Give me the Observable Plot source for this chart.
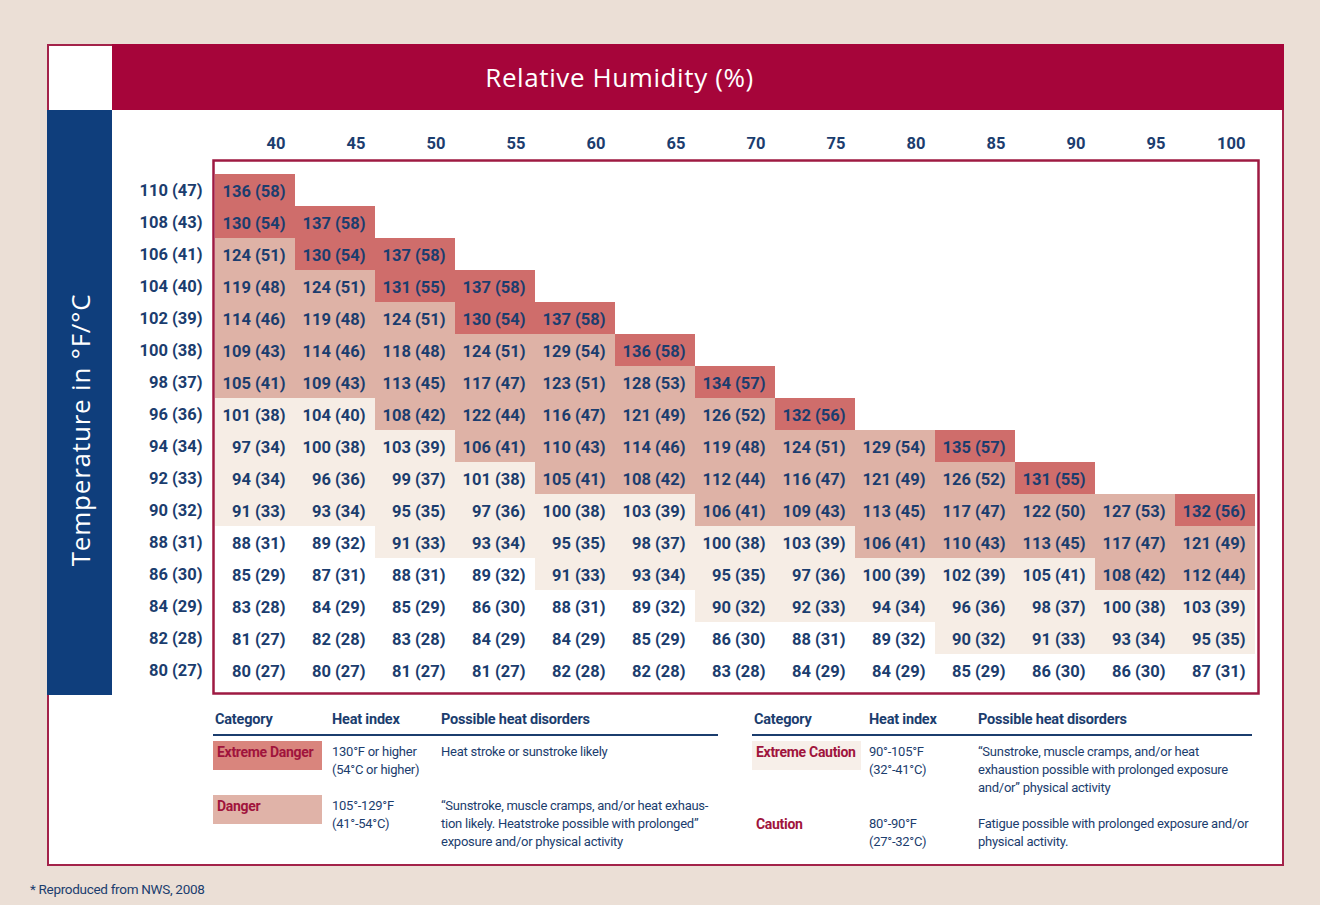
<!DOCTYPE html>
<html>
<head>
<meta charset="utf-8">
<script src="https://cdn.jsdelivr.net/npm/d3@7"></script>
<script src="https://cdn.jsdelivr.net/npm/@observablehq/plot@0.6"></script>
<style>
  html, body { margin: 0; padding: 0; }
  body { width: 1320px; height: 905px; overflow: hidden; background: #ebdfd6; position: relative;
         font-family: Roboto, "Open Sans", sans-serif; color: #1b3d6e; }
  .abs { position: absolute; }
  #panel { left: 47px; top: 44px; width: 1237px; height: 822px; background: #fff; border: 2px solid #a3234a; box-sizing: border-box; }
  #redbar { left: 112px; top: 44px; width: 1172px; height: 66px; background: #a6053a; }
  #bluebar { left: 47px; top: 110px; width: 65px; height: 585px; background: #0f3e7c; }
  #title { left: 112px; top: 59px; width: 1015px; text-align: center; color: #fff; font-family: "Open Sans", sans-serif; font-size: 26px; letter-spacing: 0.6px; line-height: 36px; }
  #ytitle { left: 80px; top: 430px; transform: translate(-50%, -50%) rotate(-90deg); color: #fff; font-family: "Open Sans", sans-serif; font-size: 26px; letter-spacing: 0.8px; white-space: nowrap; }
  #chart { left: 130px; top: 120px; }
  .lh { font-weight: 700; font-size: 14.5px; letter-spacing: -0.2px; white-space: nowrap; }
  .lt { font-size: 13px; line-height: 18px; letter-spacing: -0.25px; white-space: nowrap; }
  .cat { font-weight: 700; font-size: 14px; letter-spacing: -0.3px; color: #a0143c; white-space: nowrap; }
  .rule { height: 2px; background: #1b3d6e; }
  #foot { left: 30px; top: 881px; font-size: 13.5px; letter-spacing: -0.3px; }
</style>
</head>
<body>
<div id="panel" class="abs"></div>
<div id="redbar" class="abs"></div>
<div id="bluebar" class="abs"></div>
<div id="title" class="abs">Relative Humidity (%)</div>
<div id="ytitle" class="abs">Temperature in °F/°C</div>
<div id="chart" class="abs"></div>
<div id="legend"></div>
<div id="foot" class="abs">* Reproduced from NWS, 2008</div>
<script>
// Relative humidity (%) columns
const humidity = [40, 45, 50, 55, 60, 65, 70, 75, 80, 85, 90, 95, 100];
// Air temperature rows (°F) and their °C labels
const tempF = [110, 108, 106, 104, 102, 100, 98, 96, 94, 92, 90, 88, 86, 84, 82, 80];
const tempC = [47, 43, 41, 40, 39, 38, 37, 36, 34, 33, 32, 31, 30, 29, 28, 27];
// Heat index values (°F), one array per temperature row, from 40% humidity onward
const heatF = [
  [136],
  [130, 137],
  [124, 130, 137],
  [119, 124, 131, 137],
  [114, 119, 124, 130, 137],
  [109, 114, 118, 124, 129, 136],
  [105, 109, 113, 117, 123, 128, 134],
  [101, 104, 108, 122, 116, 121, 126, 132],
  [97, 100, 103, 106, 110, 114, 119, 124, 129, 135],
  [94, 96, 99, 101, 105, 108, 112, 116, 121, 126, 131],
  [91, 93, 95, 97, 100, 103, 106, 109, 113, 117, 122, 127, 132],
  [88, 89, 91, 93, 95, 98, 100, 103, 106, 110, 113, 117, 121],
  [85, 87, 88, 89, 91, 93, 95, 97, 100, 102, 105, 108, 112],
  [83, 84, 85, 86, 88, 89, 90, 92, 94, 96, 98, 100, 103],
  [81, 82, 83, 84, 84, 85, 86, 88, 89, 90, 91, 93, 95],
  [80, 80, 81, 81, 82, 82, 83, 84, 84, 85, 86, 86, 87]
];
// Heat index values (°C)
const heatC = [
  [58],
  [54, 58],
  [51, 54, 58],
  [48, 51, 55, 58],
  [46, 48, 51, 54, 58],
  [43, 46, 48, 51, 54, 58],
  [41, 43, 45, 47, 51, 53, 57],
  [38, 40, 42, 44, 47, 49, 52, 56],
  [34, 38, 39, 41, 43, 46, 48, 51, 54, 57],
  [34, 36, 37, 38, 41, 42, 44, 47, 49, 52, 55],
  [33, 34, 35, 36, 38, 39, 41, 43, 45, 47, 50, 53, 56],
  [31, 32, 33, 34, 35, 37, 38, 39, 41, 43, 45, 47, 49],
  [29, 31, 31, 32, 33, 34, 35, 36, 39, 39, 41, 42, 44],
  [28, 29, 29, 30, 31, 32, 32, 33, 34, 36, 37, 38, 39],
  [27, 28, 28, 29, 29, 29, 30, 31, 32, 32, 33, 34, 35],
  [27, 27, 27, 27, 28, 28, 28, 29, 29, 29, 30, 30, 31]
];
// Category of each cell as shown: C = Caution, E = Extreme Caution, D = Danger, X = Extreme Danger
const cellCategory = [
  "X",
  "XX",
  "DXX",
  "DDXX",
  "DDDXX",
  "DDDDDX",
  "DDDDDDX",
  "EEDDDDDX",
  "EEEDDDDDDX",
  "EEEEDDDDDDX",
  "EEEEEEDDDDDDX",
  "CCEEEEEEDDDDD",
  "CCCCEEEEEEEDD",
  "CCCCCCEEEEEEE",
  "CCCCCCCCCEEEE",
  "CCCCCCCCCCCCC"
];
const categoryCodes = ["C", "E", "D", "X"];
const categoryColors = ["#ffffff", "#f6ede5", "#deb2a6", "#cf6d6b"];

const cells = [];
heatF.forEach((row, i) => row.forEach((f, j) => {
  cells.push({ rh: humidity[j], t: tempF[i], f, c: heatC[i][j], cat: cellCategory[i][j],
               label: `${f} (${heatC[i][j]})` });
}));

const navy = "#1b3d6e";
const font = 'Roboto, "Open Sans", sans-serif';

const chart = Plot.plot({
  width: 1140, height: 580,
  marginLeft: 85, marginTop: 53, marginRight: 15, marginBottom: 13,
  style: { fontFamily: font, color: navy, background: "transparent", overflow: "visible" },
  x: { type: "band", domain: humidity, padding: 0, axis: null },
  y: { type: "band", domain: tempF, padding: 0, axis: null },
  color: { type: "ordinal", domain: categoryCodes, range: categoryColors },
  marks: [
    Plot.cell(cells, { x: "rh", y: "t", fill: "cat", inset: 0 }),
    Plot.text(cells, { x: "rh", y: "t", text: "label", textAnchor: "end", dx: 30, dy: 1,
                       fill: navy, fontWeight: 700, fontSize: 16.5 }),
    Plot.axisX({ anchor: "top", tickSize: 0, tickPadding: 25, textAnchor: "end", dx: 30,
                 fontSize: 16.5, fontWeight: 700, fill: navy, label: null }),
    Plot.axisY({ anchor: "left", tickSize: 0, tickPadding: 13, fontSize: 16.5, fontWeight: 700, fill: navy,
                 label: null, tickFormat: t => `${t} (${tempC[tempF.indexOf(t)]})` }),
    Plot.frame({ stroke: "#9e1a42", strokeWidth: 2.5, insetTop: -13, insetLeft: -2, insetRight: -3, insetBottom: -6 })
  ]
});
document.getElementById("chart").appendChild(chart);

// Legend (two tables below the chart)
const legendLeft = [
  { cat: "Extreme Danger", box: "#d9857d", hi: ["130°F or higher", "(54°C or higher)"],
    desc: ["Heat stroke or sunstroke likely"] },
  { cat: "Danger", box: "#e0b3a8", hi: ["105°-129°F", "(41°-54°C)"],
    desc: ["“Sunstroke, muscle cramps, and/or heat exhaus-", "tion likely. Heatstroke possible with prolonged”", "exposure and/or physical activity"] }
];
const legendRight = [
  { cat: "Extreme Caution", box: "#f7efe9", hi: ["90°-105°F", "(32°-41°C)"],
    desc: ["“Sunstroke, muscle cramps, and/or heat", "exhaustion possible with prolonged exposure", "and/or” physical activity"] },
  { cat: "Caution", box: null, hi: ["80°-90°F", "(27°-32°C)"],
    desc: ["Fatigue possible with prolonged exposure and/or", "physical activity."] }
];
function addDiv(cls, style, html) {
  const d = document.createElement("div");
  d.className = "abs " + cls;
  Object.assign(d.style, style);
  d.innerHTML = html;
  document.getElementById("legend").appendChild(d);
  return d;
}
function table(x0, cols, width, rows, rowTops) {
  addDiv("lh", { left: x0 + "px", top: "711px" }, "Category");
  addDiv("lh", { left: cols[0] + "px", top: "711px" }, "Heat index");
  addDiv("lh", { left: cols[1] + "px", top: "711px" }, "Possible heat disorders");
  addDiv("rule", { left: (x0 - 2) + "px", top: "734px", width: width + "px" }, "");
  rows.forEach((r, i) => {
    const top = rowTops[i];
    if (r.box) addDiv("", { left: (x0 - 2) + "px", top: (top - 2) + "px", width: "109px", height: "29px", background: r.box }, "");
    addDiv("cat", { left: (x0 + 2) + "px", top: (top + 1) + "px" }, r.cat);
    addDiv("lt", { left: cols[0] + "px", top: top + "px" }, r.hi.join("<br>"));
    addDiv("lt", { left: cols[1] + "px", top: top + "px" }, r.desc.join("<br>"));
  });
}
table(215, [332, 441], 505, legendLeft, [743, 797]);
table(754, [869, 978], 500, legendRight, [743, 815]);
</script>
</body>
</html>
